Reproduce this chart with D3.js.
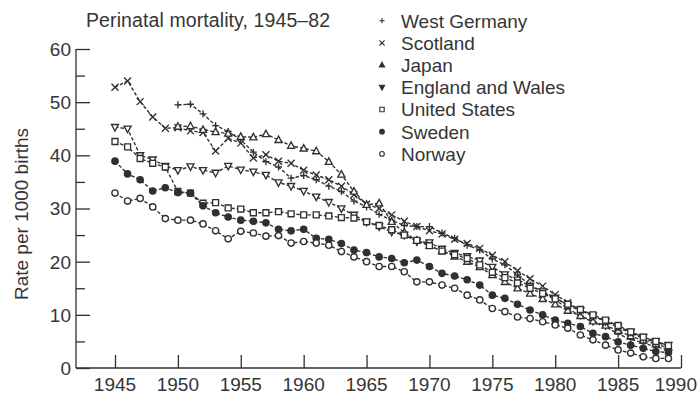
<!DOCTYPE html>
<html>
<head>
<meta charset="utf-8">
<script src="https://cdn.jsdelivr.net/npm/d3@7"></script>
<style>
  html, body { margin: 0; padding: 0; background: #fff; }
  svg { display: block; }
  text { font-family: "Liberation Sans", Arial, Helvetica, sans-serif; fill: #353535; }
</style>
</head>
<body>
<svg id="chart" width="697" height="397"></svg>
<script>
// Perinatal mortality (rate per 1000 births), by country and year
const years1945 = [1945,1946,1947,1948,1949,1950,1951,1952,1953,1954,1955,1956,1957,1958,1959,
  1960,1961,1962,1963,1964,1965,1966,1967,1968,1969,1970,1971,1972,1973,1974,1975,1976,1977,
  1978,1979,1980,1981,1982,1983,1984,1985,1986,1987,1988,1989];
const years1950 = [1950,1951,1952,1953,1954,1955,1956,1957,1958,1959,
  1960,1961,1962,1963,1964,1965,1966,1967,1968,1969,1970,1971,1972,1973,1974,1975,1976,1977,
  1978,1979,1980,1981,1982,1983,1984,1985,1986,1987,1988,1989];

const westGermany = [49.5,49.6,47.8,45.6,44.5,42.9,40.6,38.8,37.8,35.7,
  36.2,35.4,34.2,33.2,31.4,30.3,28.9,27.8,26.8,26.6,26.6,25.4,24.4,23.1,22.2,20.5,19.4,17.5,
  15.6,14.4,12.8,11.2,9.8,8.6,7.8,6.4,5.4,4.7,4.0,3.4];
const scotland = [52.8,54.0,50.1,47.2,45.1,45.2,44.6,44.3,40.8,43.2,42.3,39.5,40.1,38.9,38.5,
  37.2,36.3,35.4,34.2,32.6,30.8,30.0,28.8,27.6,26.6,25.8,25.2,24.2,23.4,22.5,21.2,20.0,18.3,
  16.8,15.4,13.8,12.3,10.9,9.8,8.8,7.6,6.6,5.6,4.8,4.2];
const japan = [45.4,45.5,44.8,44.4,44.1,43.5,43.4,44.0,42.9,41.8,
  41.3,40.8,38.8,36.4,33.2,30.7,31.0,27.5,25.5,24.0,23.0,22.0,21.0,20.0,19.0,17.5,16.2,15.0,
  14.0,13.0,12.0,10.8,9.8,8.8,8.0,7.0,6.0,5.2,4.5,3.8];
const englandWales = [45.3,45.0,40.0,39.2,38.0,37.2,37.9,37.2,36.7,38.0,37.3,36.9,36.3,34.9,34.2,
  33.3,32.2,31.2,30.0,28.8,27.5,26.6,25.6,25.0,23.8,23.6,22.4,21.6,21.0,20.2,19.0,17.6,16.6,
  15.4,14.4,13.2,11.8,10.8,9.8,8.8,7.8,6.8,5.8,5.0,4.3];
const unitedStates = [42.6,41.6,39.4,38.5,37.8,33.2,32.9,31.0,31.1,30.1,29.9,29.2,29.2,29.4,29.0,
  28.8,28.8,28.6,28.3,28.2,27.5,26.8,26.0,25.0,24.0,23.0,22.0,21.3,20.6,19.4,18.0,17.0,16.0,
  15.0,14.0,13.0,12.0,11.0,10.0,9.0,8.0,6.8,5.8,5.0,4.2];
const sweden = [38.9,36.5,35.4,33.3,33.9,33.0,32.9,30.5,29.2,28.4,27.8,27.6,27.3,26.1,25.8,
  26.1,24.4,24.2,23.4,22.2,21.7,20.9,20.6,19.8,20.3,19.1,17.8,17.3,16.6,15.6,13.7,13.1,12.0,
  10.9,10.0,9.0,8.4,7.8,6.5,5.9,4.9,4.3,3.7,3.1,2.9];
const norway = [32.9,31.4,31.9,30.3,28.1,27.8,27.8,27.1,25.8,24.3,25.7,25.4,24.8,24.9,23.5,
  23.8,23.5,23.1,21.9,20.9,20.0,19.1,19.1,18.1,16.2,16.2,15.6,15.0,13.7,12.8,11.2,10.6,9.6,
  9.3,8.7,8.1,7.5,6.2,5.3,4.3,3.4,2.8,2.1,1.8,1.8];

const seriesNames = ["West Germany","Scotland","Japan","England and Wales","United States","Sweden","Norway"];
const seriesMarkers = ["plus","cross","triangleUp","triangleDown","square","dot","circle"];
const seriesYears = [years1950, years1945, years1950, years1945, years1945, years1945, years1945];
const seriesValues = [westGermany, scotland, japan, englandWales, unitedStates, sweden, norway];

const xTickValues = [1945,1950,1955,1960,1965,1970,1975,1980,1985,1990];
const yTickValues = [0,5,10,15,20,25,30,35,40,45,50,55,60];
const yLabelValues = [0,10,20,30,40,50,60];

const chartTitle = "Perinatal mortality, 1945\u201382";
const yAxisTitle = "Rate per 1000 births";

const ink = "#303030";
const fontSize = "19px";
const svg = d3.select("#chart");

const x = d3.scaleLinear().domain([1941.9, 1990]).range([76, 681]);
const y = d3.scaleLinear().domain([0, 60]).range([368, 49]);

// marker path builders, centred on the origin
function markerPath(kind, r) {
  const p = d3.path();
  if (kind === "plus") {
    p.moveTo(-r, 0); p.lineTo(r, 0); p.moveTo(0, -r); p.lineTo(0, r);
  } else if (kind === "cross") {
    p.moveTo(-r, -r); p.lineTo(r, r); p.moveTo(-r, r); p.lineTo(r, -r);
  } else if (kind === "triangleUp") {
    p.moveTo(0, -r * 1.1); p.lineTo(r, r * 0.75); p.lineTo(-r, r * 0.75); p.closePath();
  } else if (kind === "triangleDown") {
    p.moveTo(0, r * 1.1); p.lineTo(r, -r * 0.75); p.lineTo(-r, -r * 0.75); p.closePath();
  } else if (kind === "square") {
    p.rect(-r * 0.85, -r * 0.85, r * 1.7, r * 1.7);
  } else {
    p.arc(0, 0, r * 0.9, 0, 2 * Math.PI);
  }
  return p.toString();
}
function markerFill(kind) {
  return kind === "dot" ? ink : (kind === "plus" || kind === "cross") ? "none" : "#fff";
}

// axes: ticks point into the plot, long at tens, short at fives
const yAxis = d3.axisRight(y).tickValues(yTickValues).tickSize(9).tickFormat("");
const gy = svg.append("g").attr("transform", `translate(${x.range()[0]},0)`).call(yAxis);
gy.selectAll(".tick line").attr("x2", d => d % 10 === 0 ? 14 : 9);
gy.select(".domain").attr("d", `M0,${y(60)}V${y(0)}`);

const xAxis = d3.axisTop(x).tickValues(xTickValues).tickSize(13).tickFormat("");
const gx = svg.append("g").attr("transform", `translate(0,${y(0)})`).call(xAxis);
gx.select(".domain").attr("d", `M${x.range()[0]},0H${x(1990)}`);

svg.selectAll(".domain, .tick line").attr("stroke", ink).attr("stroke-width", 1.3);

svg.append("g").selectAll("text").data(yLabelValues).join("text")
  .attr("x", 71).attr("y", d => y(d)).attr("dy", "0.36em")
  .attr("text-anchor", "end").style("font-size", fontSize).text(d => d);

// the last year label is kept flush with the right edge
svg.append("g").selectAll("text").data(xTickValues).join("text")
  .attr("x", d => d === 1990 ? 697 : x(d)).attr("y", 391)
  .attr("text-anchor", d => d === 1990 ? "end" : "middle")
  .style("font-size", fontSize).text(d => d);

svg.append("text").attr("transform", "translate(28,214) rotate(-90)")
  .attr("text-anchor", "middle").style("font-size", fontSize).text(yAxisTitle);

svg.append("text").attr("x", 86).attr("y", 27).style("font-size", "19.5px")
  .style("letter-spacing", "0.1px").text(chartTitle);

// series lines and markers
const line = d3.line().x(d => x(d[0])).y(d => y(d[1]));
seriesNames.forEach((name, i) => {
  const pts = seriesYears[i].map((yr, j) => [yr, seriesValues[i][j]]);
  const g = svg.append("g").attr("class", "series");
  g.append("path").datum(pts).attr("d", line)
    .attr("fill", "none").attr("stroke", ink).attr("stroke-width", 1.35)
    .attr("stroke-dasharray", "3.5,2");
  g.selectAll("path.mk").data(pts).join("path").attr("class", "mk")
    .attr("transform", d => `translate(${x(d[0])},${y(d[1])})`)
    .attr("d", markerPath(seriesMarkers[i], 3.5))
    .attr("fill", markerFill(seriesMarkers[i]))
    .attr("stroke", ink).attr("stroke-width", 1.35);
});

// legend
const legend = svg.append("g");
seriesNames.forEach((name, i) => {
  const cy = 20.7 + i * 22.2;
  const kind = seriesMarkers[i];
  legend.append("path").attr("transform", `translate(382,${cy})`)
    .attr("d", markerPath(kind, 2.6))
    .attr("fill", kind === "triangleUp" || kind === "triangleDown" ? ink : markerFill(kind))
    .attr("stroke", ink).attr("stroke-width", 1.1);
  legend.append("text").attr("x", 401).attr("y", cy).attr("dy", "0.36em")
    .style("font-size", fontSize).text(name);
});
</script>
</body>
</html>
